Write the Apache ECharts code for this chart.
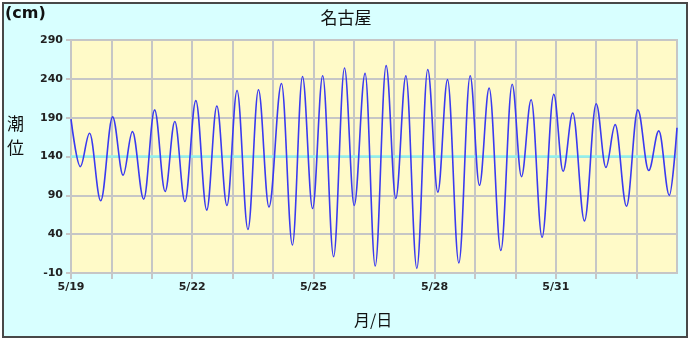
<!DOCTYPE html>
<html>
<head>
<meta charset="utf-8">
<script src="https://cdn.jsdelivr.net/npm/echarts@6/dist/echarts.min.js"></script>
<style>
html,body{margin:0;padding:0;background:#fff;}
#frame{position:absolute;left:2px;top:2px;width:686px;height:336px;box-sizing:border-box;border:2px solid #484848;background:#d8ffff;}
#chart{position:absolute;left:0;top:0;width:692px;height:340px;}
</style>
</head>
<body>
<div id="frame"></div>
<div id="chart"></div>
<script>
// time in days since 5/19 00:00 (high / low water turning points)
const tideDays = [0, 0.23, 0.46, 0.735, 1.03, 1.29, 1.52, 1.80, 2.07, 2.33, 2.57, 2.82, 3.09, 3.36, 3.61, 3.86, 4.11, 4.38, 4.64, 4.90,
  5.21, 5.48, 5.73, 5.98, 6.23, 6.50, 6.77, 7.01, 7.28, 7.53, 7.80, 8.04, 8.29, 8.56, 8.83, 9.08, 9.32, 9.60, 9.88,
  10.11, 10.35, 10.64, 10.92, 11.15, 11.39, 11.66, 11.95, 12.18, 12.42, 12.71, 13.0, 13.24, 13.47, 13.75, 14.03, 14.30, 14.55, 14.81, 15.0];
// tide level (cm)
const tideLevels = [188, 127, 170, 83, 191, 116, 172, 85, 200, 95, 185, 82, 212, 71, 205, 77, 225, 46, 226, 75,
  234, 26, 243, 73, 244, 11, 254, 77, 247, -1, 257, 86, 244, -4, 252, 94, 239, 3, 244,
  103, 228, 19, 233, 114, 213, 36, 220, 121, 196, 57, 208, 126, 181, 76, 200, 122, 173, 90, 177];
const meanLevel = 140;
const xTickLabels = ['5/19', '5/22', '5/25', '5/28', '5/31'];
const yTicks = [-10, 40, 90, 140, 190, 240, 290];

const chart = echarts.init(document.getElementById('chart'), null, {renderer: 'canvas'});
const tideData = tideDays.map((d, i) => [d, tideLevels[i]]);
const gridCol = '#c6c6c6';
const labelFont = {fontFamily: 'DejaVu Sans', fontWeight: 'bold', fontSize: 11, color: '#222'};

chart.setOption({
  backgroundColor: 'transparent',
  animation: false,
  title: {
    text: '名古屋', left: 'center', top: 4,
    textStyle: {fontFamily: 'Noto Sans CJK JP', fontSize: 17, fontWeight: 'normal', color: '#111'}
  },
  graphic: [
    {type: 'text', left: 5, top: 6, style: {text: '(cm)', font: 'bold 16px "DejaVu Sans"', fill: '#111'}},
    {type: 'text', left: 7, top: 112, style: {text: '潮\n位', font: '17px "Noto Sans CJK JP"', lineHeight: 24, fill: '#111'}},
    {type: 'text', left: 354, top: 312, style: {text: '月/日', font: '16px "Noto Sans CJK JP"', fill: '#111'}}
  ],
  grid: {left: 71, top: 40, right: 15, bottom: 67, show: true, backgroundColor: '#fffac8', borderColor: gridCol, borderWidth: 2},
  xAxis: {
    type: 'value', min: 0, max: 15, interval: 1,
    axisLine: {onZero: false, lineStyle: {color: gridCol, width: 2}},
    axisTick: {show: true, length: 6, lineStyle: {color: gridCol, width: 2}},
    splitLine: {show: true, lineStyle: {color: gridCol, width: 2}},
    axisLabel: Object.assign({
      margin: 9,
      showMaxLabel: false,
      formatter: v => (v % 3 === 0 && xTickLabels[v / 3]) ? xTickLabels[v / 3] : ''
    }, labelFont)
  },
  yAxis: {
    type: 'value', min: -10, max: 290, interval: 50,
    axisLine: {show: true, onZero: false, lineStyle: {color: gridCol, width: 2}},
    axisTick: {show: true, length: 5, lineStyle: {color: gridCol, width: 2}},
    splitLine: {show: true, lineStyle: {color: gridCol, width: 2}},
    axisLabel: Object.assign({margin: 8, formatter: v => yTicks.includes(v) ? String(v) : ''}, labelFont)
  },
  series: [
    {
      type: 'line', data: [[0, meanLevel], [15, meanLevel]], symbol: 'none', silent: true,
      lineStyle: {color: '#8ff0ec', width: 2.5}, z: 2
    },
    {
      type: 'line', data: tideData, symbol: 'none', smooth: 0.36, smoothMonotone: 'x',
      lineStyle: {color: '#3a3af0', width: 1.6}, z: 3
    }
  ]
});
</script>
</body>
</html>
